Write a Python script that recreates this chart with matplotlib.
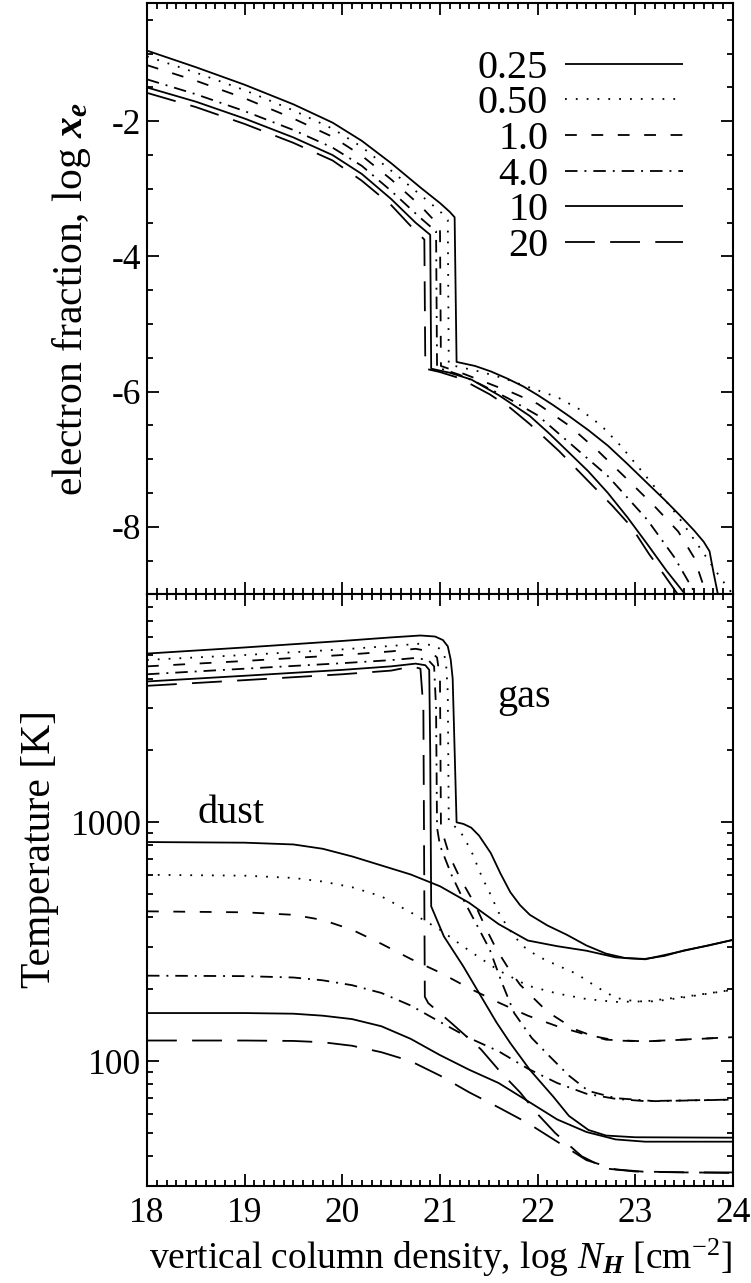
import matplotlib
matplotlib.use("Agg")
import matplotlib.pyplot as plt
from matplotlib.ticker import MultipleLocator, LogLocator, FixedFormatter, NullFormatter, FixedLocator

plt.rcParams['font.family'] = 'Liberation Serif'
plt.rcParams['mathtext.fontset'] = 'custom'
plt.rcParams['mathtext.rm'] = 'Liberation Serif'
plt.rcParams['mathtext.it'] = 'Liberation Serif:italic'
plt.rcParams['mathtext.bf'] = 'Liberation Serif:italic:bold'
plt.rcParams['axes.unicode_minus'] = False
plt.rcParams['lines.scale_dashes'] = False

labels = ['0.25', '0.50', '1.0', '4.0', '10', '20']

# electron fraction: log N_H vs log x_e
xe_nh_025 = [18.0, 18.5, 19.0, 19.5, 19.9, 20.2, 20.5, 20.8, 21.0, 21.1, 21.15, 21.17, 21.36, 21.52, 21.68, 21.85, 22.0, 22.16, 22.32, 22.52, 22.72, 22.92, 23.12, 23.3, 23.45, 23.6, 23.7, 23.76, 23.80, 23.86]
xe_025 = [-0.955, -1.20, -1.46, -1.75, -2.02, -2.29, -2.62, -2.98, -3.21, -3.34, -3.42, -5.56, -5.62, -5.70, -5.80, -5.92, -6.05, -6.20, -6.36, -6.57, -6.80, -7.07, -7.35, -7.60, -7.82, -8.05, -8.22, -8.36, -8.67, -9.1]
xe_nh_050 = [18.0, 18.5, 19.0, 19.5, 19.9, 20.2, 20.5, 20.8, 21.0, 21.08, 21.09, 21.4, 21.65, 21.92, 22.2, 22.44, 22.65, 22.85, 23.08, 23.25, 23.44, 23.68, 23.88, 24.0]
xe_050 = [-1.04, -1.28, -1.54, -1.84, -2.11, -2.38, -2.73, -3.09, -3.33, -3.46, -5.60, -5.70, -5.80, -5.94, -6.08, -6.27, -6.50, -6.80, -7.20, -7.50, -7.85, -8.35, -8.77, -9.0]
xe_nh_10 = [18.0, 18.5, 19.0, 19.5, 19.9, 20.2, 20.5, 20.8, 20.93, 21.0, 21.01, 21.25, 21.5, 21.75, 22.0, 22.32, 22.62, 22.92, 23.2, 23.44, 23.6, 23.74]
xe_10 = [-1.17, -1.40, -1.66, -1.96, -2.23, -2.51, -2.86, -3.25, -3.45, -3.58, -5.62, -5.74, -5.88, -6.02, -6.18, -6.50, -6.88, -7.30, -7.70, -8.07, -8.45, -9.05]
xe_nh_40 = [18.0, 18.5, 19.0, 19.5, 19.9, 20.2, 20.5, 20.8, 20.96, 20.97, 21.2, 21.4, 21.7, 22.0, 22.32, 22.72, 23.12, 23.4, 23.64]
xe_40 = [-1.38, -1.60, -1.85, -2.13, -2.39, -2.66, -3.03, -3.43, -3.63, -5.64, -5.75, -5.88, -6.10, -6.35, -6.75, -7.25, -7.89, -8.45, -9.05]
xe_nh_100 = [18.0, 18.5, 19.0, 19.5, 19.9, 20.2, 20.5, 20.75, 20.9, 20.91, 21.1, 21.32, 21.6, 21.92, 22.12, 22.32, 22.52, 22.72, 22.92, 23.12, 23.32, 23.54]
xe_100 = [-1.50, -1.71, -1.96, -2.24, -2.50, -2.78, -3.15, -3.50, -3.68, -5.66, -5.72, -5.82, -6.05, -6.36, -6.62, -6.90, -7.18, -7.50, -7.86, -8.25, -8.65, -9.05]
xe_nh_200 = [18.0, 18.5, 19.0, 19.5, 19.9, 20.2, 20.5, 20.72, 20.84, 20.85, 21.0, 21.2, 21.51, 21.72, 21.92, 22.22, 22.55, 22.76, 22.96, 23.14, 23.30, 23.46]
xe_200 = [-1.58, -1.79, -2.04, -2.32, -2.58, -2.88, -3.24, -3.58, -3.75, -5.66, -5.71, -5.80, -6.04, -6.24, -6.48, -6.88, -7.37, -7.68, -8.00, -8.40, -8.72, -9.05]

# gas temperature [K]
gas_nh_025 = [18.0, 19.0, 20.0, 20.5, 20.8, 20.95, 21.03, 21.08, 21.11, 21.13, 21.17, 21.24, 21.32, 21.4, 21.52, 21.62, 21.72, 21.82, 21.92, 22.1, 22.3, 22.5, 22.7, 22.9, 23.1, 23.3, 23.5, 23.75, 24.0]
gas_025 = [5090, 5400, 5750, 5950, 6060, 6000, 5800, 5460, 4800, 4000, 1000, 985, 950, 880, 744, 610, 510, 450, 410, 370, 338, 305, 282, 270, 268, 276, 291, 305, 322]
gas_nh_050 = [18.0, 19.0, 20.0, 20.5, 20.8, 20.95, 21.02, 21.06, 21.08, 21.09, 21.2, 21.32, 21.43, 21.51, 21.6, 21.7, 21.84, 22.0, 22.2, 22.4, 22.6, 22.8, 23.0, 23.2, 23.5, 24.0]
gas_050 = [4790, 5020, 5300, 5480, 5600, 5500, 5250, 4800, 3500, 1000, 930, 760, 590, 506, 420, 360, 305, 275, 252, 232, 205, 184, 178, 178, 185, 199]
gas_nh_10 = [18.0, 19.0, 20.0, 20.5, 20.75, 20.9, 20.97, 21.0, 21.01, 21.1, 21.2, 21.36, 21.47, 21.58, 21.7, 21.82, 21.95, 22.1, 22.25, 22.4, 22.55, 22.7, 23.1, 24.0]
gas_10 = [4500, 4740, 5020, 5200, 5330, 5200, 4900, 4000, 950, 720, 590, 452, 360, 293, 245, 209, 185, 161, 147, 135, 128, 123, 121, 126]
gas_nh_40 = [18.0, 19.0, 20.0, 20.5, 20.75, 20.88, 20.94, 20.96, 20.97, 21.0, 21.12, 21.24, 21.38, 21.51, 21.63, 21.76, 21.94, 22.12, 22.32, 22.52, 22.8, 23.2, 24.0]
gas_40 = [4170, 4400, 4640, 4780, 4880, 4780, 4500, 3000, 950, 800, 600, 474, 370, 293, 215, 159, 125, 105, 87, 75, 70, 68, 69]
gas_nh_100 = [18.0, 19.0, 20.0, 20.5, 20.75, 20.85, 20.89, 20.90, 20.91, 21.04, 21.24, 21.44, 21.58, 21.72, 21.92, 22.16, 22.32, 22.52, 22.7, 23.0, 24.0]
gas_100 = [3890, 4110, 4350, 4500, 4620, 4550, 4350, 2000, 445, 333, 249, 181, 145, 119, 92, 71, 59, 51.5, 48.8, 48, 47.8]
gas_nh_200 = [18.0, 19.0, 20.0, 20.5, 20.72, 20.8, 20.83, 20.845, 20.88, 21.12, 21.42, 21.62, 21.82, 22.0, 22.18, 22.45, 22.7, 23.0, 24.0]
gas_200 = [3730, 3940, 4170, 4320, 4500, 4400, 3000, 186, 175, 144, 112, 90, 74, 60, 50, 40, 35.5, 34.5, 34]

# dust temperature [K]
dust_nh = [18.0, 19.0, 19.5, 19.8, 20.1, 20.4, 20.7, 21.0, 21.3, 21.6, 21.9, 22.2, 22.5, 22.8, 23.1, 23.5, 24.0]
dust_025 = [827, 822, 808, 775, 720, 660, 605, 540, 460, 375, 320, 303, 290, 272, 267, 290, 322]
dust_050 = [603, 598, 585, 565, 535, 490, 420, 355, 290, 240, 207, 192, 182, 177, 178, 186, 199]
dust_10 = [424, 420, 410, 390, 355, 310, 268, 235, 202, 176, 155, 140, 129, 122, 121, 123, 126]
dust_40 = [228, 227, 224, 218, 208, 193, 171, 146, 125, 110, 93, 81, 73, 69.5, 68, 68.5, 69]
dust_100 = [159, 159, 158, 155, 150, 140, 124, 106, 92, 81, 68, 57, 50.5, 47, 46, 46, 46]
dust_200 = [122, 122, 121.5, 120, 116, 109, 100, 87, 74, 64, 55, 46, 38.5, 35.2, 34.4, 34.2, 34.2]

xe_nh = [xe_nh_025, xe_nh_050, xe_nh_10, xe_nh_40, xe_nh_100, xe_nh_200]
xe = [xe_025, xe_050, xe_10, xe_40, xe_100, xe_200]
gas_nh = [gas_nh_025, gas_nh_050, gas_nh_10, gas_nh_40, gas_nh_100, gas_nh_200]
gas = [gas_025, gas_050, gas_10, gas_40, gas_100, gas_200]
dust = [dust_025, dust_050, dust_10, dust_40, dust_100, dust_200]

# line styles in points (solid, dotted, dashed, dash-dot, solid, long dash)
styles = [
    (0, ()),
    (0, (1.3, 6.5)),
    (0, (8.5, 10.5)),
    (0, (9.0, 5.0, 1.4, 5.0)),
    (0, ()),
    (0, (21.5, 11.0)),
]
lw = 1.3

fig, (ax1, ax2) = plt.subplots(2, 1, sharex=True, figsize=(7.51, 12.83), dpi=100)
fig.subplots_adjust(left=0.1957, right=0.976, top=0.9977, bottom=0.0756, hspace=0)

for i in range(6):
    ax1.plot(xe_nh[i], xe[i], color='black', lw=lw, linestyle=styles[i], label=labels[i])
    ax2.plot(gas_nh[i], gas[i], color='black', lw=lw, linestyle=styles[i])
    ax2.plot(dust_nh, dust[i], color='black', lw=lw, linestyle=styles[i])

ax1.set_xlim(18, 24)
ax1.set_ylim(-9, -0.25)
ax1.yaxis.set_major_locator(MultipleLocator(2))
ax1.yaxis.set_minor_locator(MultipleLocator(0.5))
ax1.xaxis.set_major_locator(MultipleLocator(1))
ax1.xaxis.set_minor_locator(MultipleLocator(0.1))

ax2.set_yscale('log')
ax2.set_ylim(30, 9000)
ax2.yaxis.set_major_locator(FixedLocator([100, 1000]))
ax2.yaxis.set_major_formatter(FixedFormatter(['100', '1000']))
ax2.yaxis.set_minor_locator(LogLocator(base=10, subs=range(2, 10)))
ax2.yaxis.set_minor_formatter(NullFormatter())

fs = 25.5
for ax in (ax1, ax2):
    ax.tick_params(which='both', direction='in', top=True, right=True, width=1.3, labelsize=fs)
    ax.tick_params(which='major', length=8.5)
    ax.tick_params(which='minor', length=4)
    ax.tick_params(axis='x', which='major', pad=8)
    ax.tick_params(axis='y', which='major', pad=4)
    for sp in ax.spines.values():
        sp.set_linewidth(1.5)
ax1.tick_params(labelbottom=False)

ax1.set_ylabel(r'electron fraction, log $\mathbf{x_e}$', fontsize=30)
ax1.yaxis.set_label_coords(-0.128, 0.5)
ax1.yaxis.label.set_va('center')
ax2.set_ylabel('Temperature [K]', fontsize=30)
ax2.yaxis.set_label_coords(-0.183, 0.57)
ax2.yaxis.label.set_va('center')
ax2.set_xlabel(r'vertical column density, log $N_\mathbf{H}$ [cm$^{-2}$]', fontsize=27, labelpad=5)

ax2.text(0.643, 0.809, 'gas', transform=ax2.transAxes, fontsize=29, ha='center', va='baseline')
ax2.text(0.143, 0.614, 'dust', transform=ax2.transAxes, fontsize=29, ha='center', va='baseline')

leg = ax1.legend(loc='upper right', bbox_to_anchor=(0.915, 0.921), frameon=False, markerfirst=False,
                 fontsize=29, handlelength=2.93, handletextpad=0.42, labelspacing=-0.04,
                 borderpad=0, borderaxespad=0)

fig.savefig('out.png', dpi=100)
